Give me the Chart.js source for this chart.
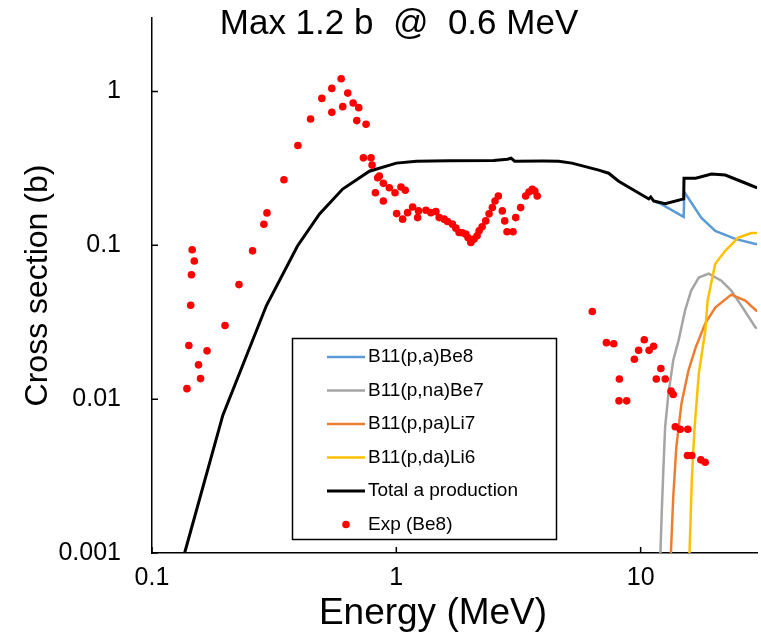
<!DOCTYPE html>
<html>
<head>
<meta charset="utf-8">
<style>
  html, body { margin: 0; padding: 0; background: #fff; }
  #wrap { width: 761px; height: 637px; }
</style>
<script src="https://cdn.jsdelivr.net/npm/chart.js@4.4.0/dist/chart.umd.min.js"></script>
</head>
<body>
<div id="wrap"><canvas id="xs-chart" width="761" height="637"></canvas></div>
<script>
// Axis ticks and titles
const xTicks = [0.1, 1, 10];
const yTicks = [0.001, 0.01, 0.1, 1];
const titleText = 'Max 1.2 b  @  0.6 MeV';
const xTitle = 'Energy (MeV)';
const yTitle = 'Cross section (b)';

// B11(p,a)Be8
const be8E  = [11.3, 12.1, 15.0, 15.1, 17.7, 20.2, 24.4, 29.5, 30];
const be8XS = [0.194, 0.186, 0.153, 0.222, 0.151, 0.124, 0.110, 0.102, 0.102];

// B11(p,na)Be7
const be7E  = [12.05, 12.2, 12.4, 12.6, 13.0, 13.6, 14.3, 15.2, 16.1, 17.3, 19.0, 21.4, 23.5, 26.3, 29.5, 30];
const be7XS = [0.001, 0.00183, 0.00363, 0.0066, 0.0109, 0.0179, 0.0241, 0.0377, 0.0508, 0.0617, 0.0654, 0.0589, 0.0508, 0.0388, 0.0292, 0.029];

// B11(p,pa)Li7
const li7E  = [13.3, 13.6, 14.0, 14.7, 15.7, 16.8, 18.4, 20.2, 23.5, 26.8, 29.7, 30];
const li7XS = [0.001, 0.00232, 0.00489, 0.00942, 0.0154, 0.0217, 0.0311, 0.0394, 0.0478, 0.0437, 0.0377, 0.0372];

// B11(p,da)Li6
const li6E  = [15.85, 16.2, 16.6, 17.3, 18.4, 18.8, 20.2, 22.2, 25.1, 28.4, 30];
const li6XS = [0.001, 0.0030, 0.0063, 0.0147, 0.028, 0.0437, 0.0759, 0.092, 0.112, 0.120, 0.120];

// Total a production
const totE  = [0.136, 0.195, 0.294, 0.394, 0.485, 0.603, 0.776, 1.0, 1.21, 1.64, 2.5, 2.85, 2.95, 3.05, 4.0, 4.62,
               5.23, 6.74, 7.40, 8.13, 10.8, 11.0, 11.3, 12.6, 15.0, 15.05, 16.8, 19.5, 22.2, 26.8, 30];
const totXS = [0.001, 0.00787, 0.0406, 0.099, 0.160, 0.232, 0.303, 0.342, 0.352, 0.354, 0.356, 0.362, 0.368, 0.352, 0.353, 0.352,
               0.342, 0.308, 0.294, 0.261, 0.200, 0.206, 0.194, 0.186, 0.200, 0.273, 0.273, 0.290, 0.286, 0.254, 0.236];

// Exp (Be8)
const expE  = [0.139, 0.1415, 0.144, 0.145, 0.146, 0.149, 0.155, 0.158, 0.168, 0.199, 0.227, 0.258,
               0.287, 0.2955, 0.3467, 0.3955, 0.4457, 0.4956, 0.5444, 0.5444, 0.5946, 0.6035, 0.6327, 0.6657,
               0.6887, 0.7017, 0.7332, 0.7519, 0.788, 0.7956, 0.821, 0.8389, 0.852, 0.885, 0.885, 0.9363,
               0.988, 1.003, 1.045, 1.061, 1.088, 1.112, 1.166, 1.222, 1.233, 1.322, 1.385, 1.452,
               1.498, 1.570, 1.620, 1.697, 1.753, 1.807, 1.860, 1.925, 1.967, 2.018, 2.082, 2.141,
               2.182, 2.244, 2.323, 2.397, 2.472, 2.535, 2.616, 2.716, 2.778, 2.839, 3.004, 3.081,
               3.228, 3.383, 3.49, 3.600, 3.69, 3.773,
               6.34, 7.244, 7.758, 8.155, 8.185, 8.768, 9.425, 9.81, 10.35, 10.83, 11.30, 11.59,
               12.10, 12.61, 13.32, 13.60, 13.86, 14.52, 15.60, 15.55, 16.20, 17.63, 18.37];
const expXS = [0.0117, 0.0223, 0.0408, 0.0644, 0.0935, 0.079, 0.0167, 0.0136, 0.0206, 0.0301, 0.0555, 0.092,
               0.137, 0.1623, 0.2667, 0.4452, 0.6617, 0.901, 1.046, 0.731, 1.208, 0.796, 0.975, 0.840,
               0.646, 0.784, 0.370, 0.6115, 0.370, 0.332, 0.2197, 0.2747, 0.2818, 0.2527, 0.194, 0.2366,
               0.2197, 0.1606, 0.239, 0.1478, 0.2277, 0.163, 0.1775, 0.1513, 0.1673, 0.169, 0.163, 0.1655,
               0.1513, 0.1478, 0.1426, 0.1372, 0.1292, 0.121, 0.1205, 0.1181, 0.112, 0.1042, 0.1097, 0.1152,
               0.1242, 0.1318, 0.144, 0.160, 0.1757, 0.194, 0.2091, 0.1673, 0.144, 0.1223, 0.1223, 0.1513,
               0.1757, 0.2091, 0.222, 0.2311, 0.225, 0.2091,
               0.0371, 0.02328, 0.02293, 0.00975, 0.01353, 0.00975, 0.01815, 0.02076, 0.02434, 0.02076, 0.02205, 0.01353,
               0.0158, 0.01353, 0.01127, 0.01073, 0.00662, 0.00637, 0.00637, 0.0043, 0.0043, 0.00403, 0.00389];

const FONT = '"Liberation Sans", Arial, sans-serif';

function pts(xs, ys) { return xs.map((v, i) => ({ x: v, y: ys[i] })); }

function lineSet(label, xs, ys, color, width, order) {
  return { label, data: pts(xs, ys), borderColor: color, backgroundColor: color, borderWidth: width,
           pointRadius: 0, showLine: true, fill: false, tension: 0, order };
}

// inside tick marks, title, x axis title and the boxed legend
const decor = {
  id: 'decor',
  afterDraw(chart) {
    const { ctx, chartArea: a, scales: { x, y } } = chart;
    ctx.save();
    ctx.strokeStyle = '#000';
    ctx.lineWidth = 1.5;
    ctx.beginPath();
    xTicks.forEach(v => { const px = x.getPixelForValue(v); ctx.moveTo(px, a.bottom); ctx.lineTo(px, a.bottom - 6); });
    yTicks.forEach(v => { const py = y.getPixelForValue(v); ctx.moveTo(a.left, py); ctx.lineTo(a.left + 6, py); });
    ctx.stroke();

    ctx.fillStyle = '#000';
    ctx.textAlign = 'center';
    ctx.textBaseline = 'middle';
    ctx.font = '35px ' + FONT;
    ctx.fillText(titleText, 399, 24);
    ctx.font = '37px ' + FONT;
    ctx.fillText(xTitle, 433, 614);

    // legend
    ctx.lineWidth = 1.5;
    ctx.strokeRect(292.5, 338.5, 264, 201);
    ctx.font = '19px ' + FONT;
    ctx.textAlign = 'left';
    chart.data.datasets.forEach((ds, i) => {
      const ly = 357 + i * 33.5;
      if (ds.showLine) {
        ctx.strokeStyle = ds.borderColor;
        ctx.lineWidth = ds.borderWidth;
        ctx.beginPath(); ctx.moveTo(327, ly); ctx.lineTo(365, ly); ctx.stroke();
      } else {
        ctx.fillStyle = ds.backgroundColor;
        ctx.beginPath(); ctx.arc(346, ly, ds.pointRadius, 0, Math.PI * 2); ctx.fill();
      }
      ctx.fillStyle = '#000';
      ctx.fillText(ds.label, 368, ly);
    });
    ctx.restore();
  }
};

new Chart(document.getElementById('xs-chart'), {
  type: 'scatter',
  data: {
    datasets: [
      lineSet('B11(p,a)Be8', be8E, be8XS, '#5B9BD5', 2.5, 5),
      lineSet('B11(p,na)Be7', be7E, be7XS, '#A5A5A5', 2.5, 4),
      lineSet('B11(p,pa)Li7', li7E, li7XS, '#ED7D31', 2.5, 3),
      lineSet('B11(p,da)Li6', li6E, li6XS, '#FFC000', 2.5, 2),
      lineSet('Total a production', totE, totXS, '#000000', 3, 1),
      { label: 'Exp (Be8)', data: pts(expE, expXS), showLine: false, pointRadius: 3.8, pointHoverRadius: 3.8,
        pointBorderWidth: 0, borderColor: '#FF0000', backgroundColor: '#FF0000', order: 0 }
    ]
  },
  options: {
    responsive: false,
    animation: false,
    events: [],
    layout: { padding: { left: 0, right: 1, top: 18, bottom: 0 } },
    plugins: { legend: { display: false }, tooltip: { enabled: false }, title: { display: false } },
    scales: {
      x: {
        type: 'logarithmic', min: 0.1, max: 30,
        afterBuildTicks: s => { s.ticks = xTicks.map(v => ({ value: v })); },
        afterFit: s => { s.height = 84; s.paddingLeft = 0; s.paddingRight = 0; },
        grid: { display: false, drawTicks: false },
        border: { display: true, color: '#000', width: 1.5 },
        ticks: { color: '#000', font: { family: FONT, size: 25 }, padding: 10, maxRotation: 0,
                 callback: v => String(v) }
      },
      y: {
        type: 'logarithmic', min: 0.001, max: 3,
        afterBuildTicks: s => { s.ticks = yTicks.map(v => ({ value: v })); },
        afterFit: s => { s.width = 152; s.paddingTop = 0; s.paddingBottom = 0; },
        grid: { display: false, drawTicks: false },
        border: { display: true, color: '#000', width: 1.5 },
        ticks: { color: '#000', font: { family: FONT, size: 25 }, padding: 31,
                 callback: v => String(v) },
        title: { display: true, text: yTitle, color: '#000', font: { family: FONT, size: 32 },
                 padding: { top: 19, bottom: 0 } }
      }
    }
  },
  plugins: [decor]
});
</script>
</body>
</html>
